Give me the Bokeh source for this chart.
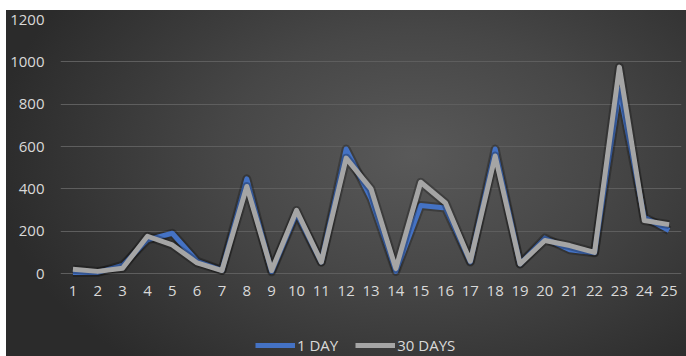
from bokeh.plotting import figure
from bokeh.models import ColumnDataSource, Legend, LegendItem, FixedTicker, Range1d
from bokeh.embed import file_html
from bokeh.resources import INLINE

days = list(range(1, 26))
one_day = [5, 5, 38, 159, 190, 58, 15, 447, 8, 285, 54, 588, 355, 10, 321, 309, 54, 588, 45, 167, 112, 98, 872, 266, 203]
thirty_days = [20, 10, 25, 176, 135, 50, 14, 411, 14, 298, 54, 545, 400, 23, 431, 333, 58, 555, 45, 156, 132, 100, 975, 250, 231]
y_ticks = [0, 200, 400, 600, 800, 1000, 1200]

src = ColumnDataSource(data=dict(x=days, a=one_day, b=thirty_days))

# frame spans from the 1200 line (19px) to the bottom of the canvas; value 0 sits at 273px
y_max = 1200
px_per_unit = (273 - 19) / y_max
y_min = -(356 - 273) / px_per_unit

p = figure(width=680, height=346, output_backend="svg", toolbar_location=None,
           x_range=Range1d(0.5, 25.5), y_range=Range1d(y_min, y_max),
           min_border_left=54, min_border_right=5, min_border_top=9, min_border_bottom=0)
p.margin = (10, 0, 0, 6)
p.styles = {"background": "radial-gradient(ellipse 62% 80% at 60% 42%, #595959 0%, #474747 45%, #2b2b2b 100%)"}
p.border_fill_alpha = 0
p.background_fill_alpha = 0
p.outline_line_color = None

# subtle shadows
p.line("x", "a", source=src, line_color="black", line_alpha=0.25, line_width=9, line_join="round")
r1 = p.line("x", "a", source=src, line_color="#4472C4", line_width=5, line_join="round")
p.line("x", "b", source=src, line_color="black", line_alpha=0.25, line_width=9, line_join="round")
r2 = p.line("x", "b", source=src, line_color="#A5A5A5", line_width=5, line_join="round")

for ax in (p.xaxis[0], p.yaxis[0]):
    ax.axis_line_color = None
    ax.major_tick_line_color = None
    ax.minor_tick_line_color = None
    ax.major_tick_out = 0
    ax.minor_tick_out = 0
    ax.major_label_text_color = "#d9d9d9"
    ax.major_label_text_font = "Open Sans"
    ax.major_label_text_font_size = "15px"

p.xaxis.ticker = FixedTicker(ticks=days)
p.xaxis.major_label_standoff = 12
p.xaxis.fixed_location = 0
p.yaxis.ticker = FixedTicker(ticks=y_ticks)
p.yaxis.major_label_standoff = 16

p.xgrid.grid_line_color = None
p.ygrid.grid_line_color = "#5e5e5e"
p.ygrid.grid_line_width = 1

legend = Legend(items=[LegendItem(label="1 DAY", renderers=[r1]),
                       LegendItem(label="30 DAYS", renderers=[r2])],
                location=(195, 1), orientation="horizontal",
                background_fill_alpha=0, border_line_color=None,
                padding=0, margin=0, spacing=17, glyph_width=40, label_standoff=2,
                label_height=20, glyph_height=20,
                label_text_color="#d9d9d9", label_text_font="Open Sans",
                label_text_font_size="15px")
p.add_layout(legend, "center")

open("out.html", "w").write(file_html(p, INLINE))
